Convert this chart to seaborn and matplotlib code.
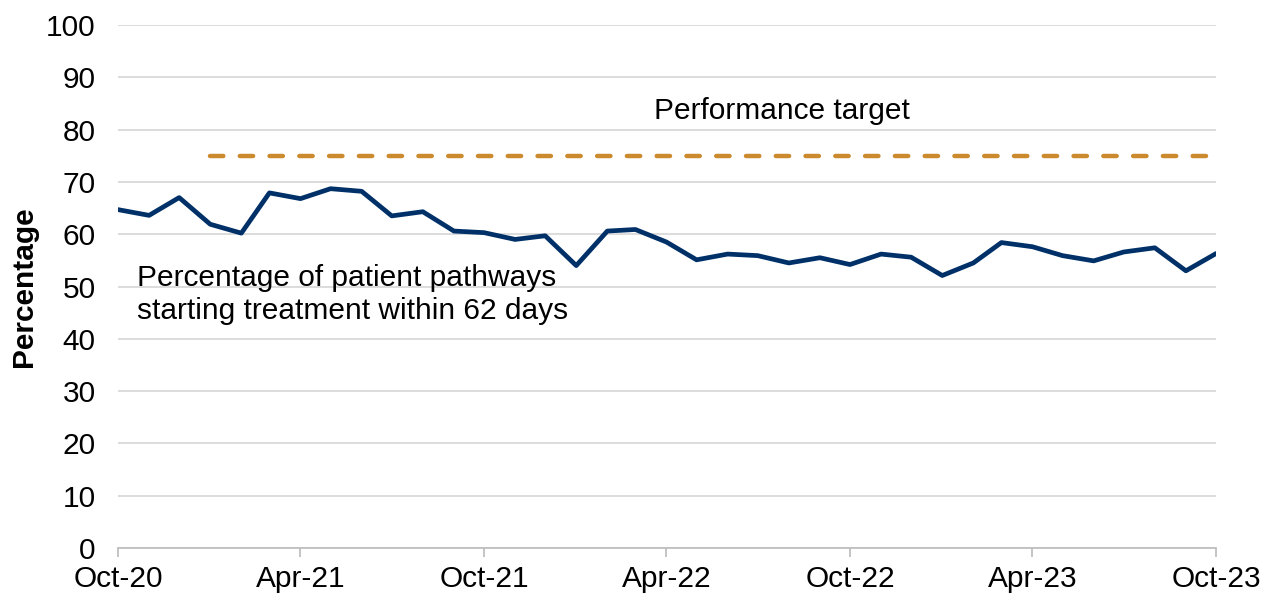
import pandas as pd
import numpy as np
import matplotlib
matplotlib.use('Agg')
import matplotlib.pyplot as plt
import matplotlib.dates as mdates
import seaborn as sns

# monthly series, Oct-20 .. Oct-23
months = pd.date_range('2020-10-01', '2023-10-01', freq='MS')
pct_62_days = [
    64.7, 63.6, 67.0, 61.9, 60.2, 67.9, 66.8, 68.7, 68.2, 63.5,
    64.3, 60.6, 60.3, 59.0, 59.7, 54.0, 60.6, 60.9, 58.5, 55.1,
    56.2, 55.9, 54.5, 55.5, 54.2, 56.2, 55.6, 52.1, 54.5, 58.4,
    57.6, 55.9, 54.9, 56.6, 57.4, 53.0, 56.3,
]
target_months = pd.to_datetime(['2021-01-01', '2023-10-01'])
target_values = [75, 75]

y_ticks = list(range(0, 101, 10))

navy = '#003068'
amber = '#CC8A2E'
grid_grey = '#D9D9D9'
fs = 21.5

sns.set_theme(style='white')
plt.rcParams['font.family'] = ['Liberation Sans', 'DejaVu Sans']

df = pd.DataFrame({'month': months, 'pct': pct_62_days})
tgt = pd.DataFrame({'month': target_months, 'pct': target_values})

fig = plt.figure(figsize=(12.71, 6), dpi=100)
ax = fig.add_axes([118 / 1271, 52 / 600, 1098 / 1271, 523 / 600])

sns.lineplot(data=df, x='month', y='pct', ax=ax, color=navy, linewidth=3.4,
             solid_joinstyle='round', solid_capstyle='round')
sns.lineplot(data=tgt, x='month', y='pct', ax=ax, color=amber, linewidth=3.2,
             dashes=False)
ax.lines[-1].set_dashes((3.0, 3.7))
ax.lines[-1].set_dash_capstyle('round')

ax.set_ylim(0, 100)
ax.set_xlim(months[0], months[-1])
ax.set_yticks(y_ticks)
ax.yaxis.grid(True, color=grid_grey, linewidth=1.3)
ax.set_axisbelow(True)

ax.xaxis.set_major_locator(mdates.MonthLocator(bymonth=[4, 10]))
ax.xaxis.set_major_formatter(mdates.DateFormatter('%b-%y'))

for side in ['top', 'right', 'left']:
    ax.spines[side].set_visible(False)
ax.spines['bottom'].set_color('#BFBFBF')
ax.spines['bottom'].set_linewidth(1.3)

ax.tick_params(axis='x', which='major', direction='out', length=6.5, width=1.3,
               color='#BFBFBF', labelsize=fs, labelcolor='black', pad=6, bottom=True)
ax.tick_params(axis='y', length=0, labelsize=fs, labelcolor='black', pad=16)

ax.set_xlabel('')
ax.set_ylabel('Percentage', fontsize=fs, fontweight='bold', color='black', labelpad=6)

ax.text(pd.Timestamp('2022-07-25'), 83.6, 'Performance target',
        fontsize=fs, ha='center', va='center', color='black')
ax.text(pd.Timestamp('2020-10-20'), 48.4,
        'Percentage of patient pathways\nstarting treatment within 62 days',
        fontsize=fs, ha='left', va='center', color='black', linespacing=1.22)

fig.savefig('out.png', dpi=100)
